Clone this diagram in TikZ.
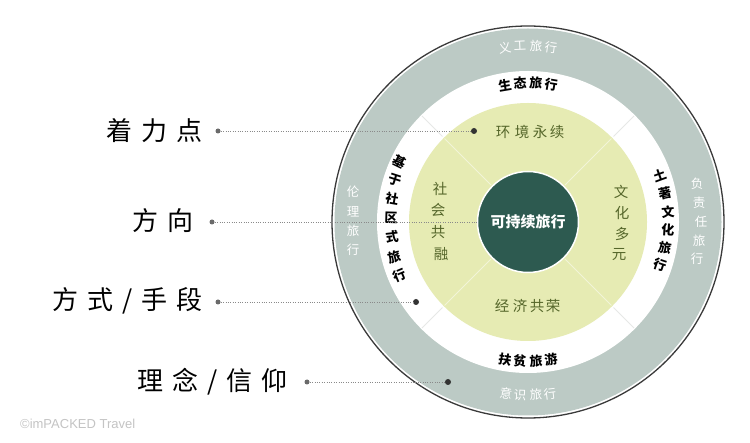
\documentclass[tikz,border=0pt]{standalone}
\usepackage{fontspec}
\setmainfont{Liberation Sans}
\newfontfamily\cjk{Noto Sans CJK SC}
\usetikzlibrary{calc}
\definecolor{bandgray}{HTML}{BCCAC5}
\definecolor{paleyel}{HTML}{E6EBB3}
\definecolor{coreteal}{HTML}{2D5A50}
\definecolor{olive}{HTML}{55662A}
\definecolor{rimline}{HTML}{3A3A3A}
\definecolor{leadgray}{HTML}{8A8A8A}
\definecolor{dotgray}{HTML}{6A6A6A}
\definecolor{dotdark}{HTML}{333333}
\definecolor{wmgray}{HTML}{C4C4C4}
\definecolor{divyel}{HTML}{F2F4D8}
\definecolor{divgray}{HTML}{E6E8E6}
\newcommand\gapL{\hspace{9pt}}
\begin{document}
\begin{tikzpicture}[x=1pt,y=-1pt,
  bigtxt/.style={font=\cjk\fontsize{26}{30}\selectfont, text=black, inner sep=0pt, anchor=east},
  bandtxt/.style={font=\cjk\fontsize{12.5}{14}\selectfont, text=white, inner sep=0pt},
  ringtxt/.style={font=\cjk\bfseries\fontsize{13}{15}\selectfont, text=black, inner sep=0pt},
  yeltxt/.style={font=\cjk\fontsize{14.5}{16}\selectfont, text=olive, inner sep=0pt},
  leader/.style={draw=leadgray, line width=0.6pt, dash pattern=on 0.8pt off 1.6pt},
  ldot/.style={circle, fill=dotgray, inner sep=0pt, minimum size=5pt},
  rdot/.style={circle, fill=dotdark, inner sep=0pt, minimum size=6pt},
  divline/.style={line width=1pt},
]
\useasboundingbox (0,0) rectangle (750,443);
\fill[white] (0,0) rectangle (750,443);
\coordinate (c) at (528,222);
% rings
\draw[rimline, line width=1.3pt] (c) circle[radius=196pt];
\fill[bandgray] (c) circle[radius=193.5pt];
\fill[white] (c) circle[radius=151pt];
\fill[paleyel] (c) circle[radius=119pt];
% faint dividers
\foreach \a in {45,135,225,315}{
  \draw[divline, divyel] ($(c)+(\a:52)$) -- ($(c)+(\a:118)$);
  \draw[divline, divgray] ($(c)+(\a:121)$) -- ($(c)+(\a:150)$);
}
% core
\node[circle, fill=coreteal, draw=white, line width=1.5pt, minimum size=101pt, inner sep=0pt,
      font=\cjk\bfseries\fontsize{15}{17}\selectfont, text=white] (core) at (c) {可持续旅行};
% gray band texts
\foreach \ch/\x/\y/\r [count=\i] in {义/505/47.5/7.5, 工/520/46.2/2.6, 旅/536/46.2/-2.6, 行/551/47.5/-7.5}
  \node[bandtxt, rotate=\r] (ta\i) at (\x,\y) {\ch};
\foreach \ch/\x/\y/\r [count=\i] in {意/506/393.6/-7.3, 识/520/394.8/-2.6, 旅/536/394.8/2.6, 行/550/393.6/7.3}
  \node[bandtxt, rotate=\r] (tb\i) at (\x,\y) {\ch};
\foreach \ch/\y [count=\i] in {伦/192, 理/212, 旅/231, 行/250}
  \node[bandtxt] (tc\i) at (353,\y) {\ch};
\foreach \ch/\x/\y [count=\i] in {负/697/184, 责/699/203, 任/701/222, 旅/699/241, 行/697/259}
  \node[bandtxt] (td\i) at (\x,\y) {\ch};
% white ring texts
\foreach \ch/\x/\y/\r [count=\i] in {生/505/84.9/9.5, 态/520/83.2/3.3, 旅/536/83.2/-3.3, 行/551/84.9/-9.5}
  \node[ringtxt, rotate=\r] (te\i) at (\x,\y) {\ch};
\foreach \ch/\x/\y/\r [count=\i] in {扶/505/359.6/-9.5, 贫/520/361.3/-3.3, 旅/536/361.3/3.3, 游/551/359.6/9.5}
  \node[ringtxt, rotate=\r] (tf\i) at (\x,\y) {\ch};
\foreach \ch/\x/\y/\r [count=\i] in {基/400/162/-26, 于/395/180/-17.8, 社/392/199/-9.7, 区/391/218/-1.7, 式/392/237/6.3, 旅/395/257/14.8, 行/400/275/22.8}
  \node[ringtxt, rotate=\r] (tg\i) at (\x,\y) {\ch};
\foreach \ch/\x/\y/\r [count=\i] in {土/660/175/20, 著/665/193/12.2, 文/668/212/4.2, 化/668/230/-3.3, 旅/665/248/-10.9, 行/660/265/-18.3}
  \node[ringtxt, rotate=\r] (th\i) at (\x,\y) {\ch};
% yellow texts
\foreach \ch/\x [count=\i] in {环/503, 境/522, 永/540, 续/557}
  \node[yeltxt] (ti\i) at (\x,132) {\ch};
\foreach \ch/\x [count=\i] in {经/502, 济/520, 共/537, 荣/553}
  \node[yeltxt] (tj\i) at (\x,306) {\ch};
\foreach \ch/\x/\y [count=\i] in {社/440/189, 会/438/210, 共/438/232, 融/441/254}
  \node[yeltxt] (tk\i) at (\x,\y) {\ch};
\foreach \ch/\x/\y [count=\i] in {文/621/192, 化/622/213, 多/622/234, 元/619/255}
  \node[yeltxt] (tl\i) at (\x,\y) {\ch};
% leaders
\node[ldot] (l1) at (218,131) {};
\node[rdot] (r1) at (474,131) {};
\draw[leader] (l1) -- (r1);
\node[bigtxt] (lab1) at (203,131) {着\gapL 力\gapL 点};
\node[ldot] (l2) at (212,222) {};
\draw[leader] (l2) -- (core.west);
\node[bigtxt] (lab2) at (194,221) {方\gapL 向};
\node[ldot] (l3) at (218,302) {};
\node[rdot] (r3) at (416,302) {};
\draw[leader] (l3) -- (r3);
\node[bigtxt] (lab3) at (203,301) {方\gapL 式\gapL /\gapL 手\gapL 段};
\node[ldot] (l4) at (307,382) {};
\node[rdot] (r4) at (448,382) {};
\draw[leader] (l4) -- (r4);
\node[bigtxt] (lab4) at (288,382) {理\gapL 念\gapL /\gapL 信\gapL 仰};
% watermark
\node[anchor=west, text=wmgray, font=\fontsize{13}{15}\selectfont, inner sep=0pt] (wm) at (20,424) {©imPACKED Travel};
\end{tikzpicture}
\end{document}
